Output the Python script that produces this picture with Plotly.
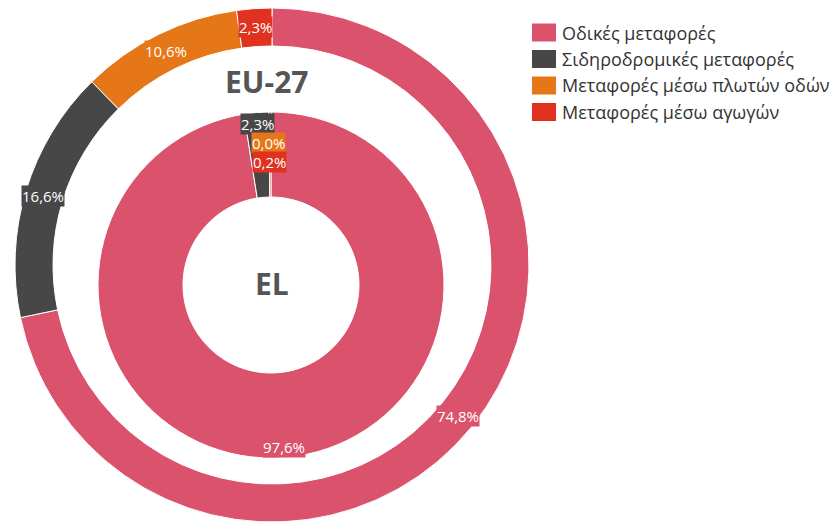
import math
import plotly.graph_objects as go

# ---- data ----
categories = ["Οδικές μεταφορές", "Σιδηροδρομικές μεταφορές",
              "Μεταφορές μέσω πλωτών οδών", "Μεταφορές μέσω αγωγών"]
eu27_values = [74.8, 16.6, 10.6, 2.3]
el_values = [97.6, 2.3, 0.0, 0.2]
ring_names = ["EU-27", "EL"]
colors = ["#DA526C", "#474747", "#E57718", "#E0321F"]

W, H = 832, 524
FONT = "Open Sans, Noto Sans, DejaVu Sans, sans-serif"

# geometry (pixels)
outer_c, outer_R, outer_hole = (272, 265), 257, 219
inner_c, inner_R, inner_hole = (271, 285), 173, 88


def dom(c, R):
    cx, cy = c
    return dict(x=[(cx - R) / W, (cx + R) / W],
                y=[1 - (cy + R) / H, 1 - (cy - R) / H])


fig = go.Figure()
fig.add_trace(go.Pie(
    labels=categories, values=eu27_values, name=ring_names[0],
    domain=dom(outer_c, outer_R), hole=outer_hole / outer_R,
    sort=False, direction="clockwise", rotation=0,
    marker=dict(colors=colors, line=dict(color="white", width=1)),
    textinfo="none", showlegend=False))
fig.add_trace(go.Pie(
    labels=categories, values=el_values, name=ring_names[1],
    domain=dom(inner_c, inner_R), hole=inner_hole / inner_R,
    sort=False, direction="clockwise", rotation=0,
    marker=dict(colors=colors, line=dict(color="white", width=1)),
    textinfo="none", showlegend=False))


def fmt(v):
    return f"{v:.1f}".replace(".", ",") + "%"


def slice_labels(values, c, r):
    total = sum(values)
    cum = 0.0
    out = []
    for i, v in enumerate(values):
        th = 2 * math.pi * (cum + v / 2) / total
        cum += v
        out.append([c[0] + r * math.sin(th), c[1] - r * math.cos(th), i, v])
    return out


annotations = []


def add_labels(labs, step=19):
    # stack labels that would collide, in series order
    placed = []
    for lab in labs:
        def near():
            return [p for p in placed
                    if abs(p[0] - lab[0]) < 40 and abs(p[1] - lab[1]) < step]
        close = near()
        while close:
            lab[1] = max(p[1] for p in close) + step
            close = near()
        placed.append(lab)
    for x, y, i, v in placed:
        annotations.append(dict(
            x=x / W, y=1 - y / H, xref="paper", yref="paper",
            text=fmt(v), showarrow=False, xanchor="center", yanchor="middle",
            font=dict(family=FONT, size=15, color="white"),
            bgcolor=colors[i], borderpad=0))


add_labels(slice_labels(eu27_values, outer_c, 239))
add_labels(slice_labels(el_values, inner_c, 162))

# center titles
for name, (px, py) in zip(ring_names, [(266.5, 81), (271.5, 283)]):
    annotations.append(dict(x=px / W, y=1 - py / H, xref="paper", yref="paper",
                            text="<b>" + name + "</b>", showarrow=False,
                            xanchor="center", yanchor="middle",
                            font=dict(family=FONT, size=30, color="#555555")))

# custom legend
shapes = []
for k, (name, col) in enumerate(zip(categories, colors)):
    yc = 32.5 + k * 26.5
    shapes.append(dict(type="rect", xref="paper", yref="paper",
                       x0=532 / W, x1=556 / W,
                       y0=1 - (yc + 9) / H, y1=1 - (yc - 9) / H,
                       fillcolor=col, line=dict(width=0)))
    annotations.append(dict(x=560 / W, y=1 - yc / H, xref="paper", yref="paper",
                            text=name, showarrow=False, xanchor="left",
                            yanchor="middle",
                            font=dict(family=FONT, size=18, color="#333333")))

fig.update_layout(width=W, height=H, margin=dict(l=0, r=0, t=0, b=0),
                  paper_bgcolor="white", plot_bgcolor="white",
                  annotations=annotations, shapes=shapes, showlegend=False)

fig.write_html("out.html", config={"displayModeBar": False},
               post_script="document.body.style.margin='0';")
